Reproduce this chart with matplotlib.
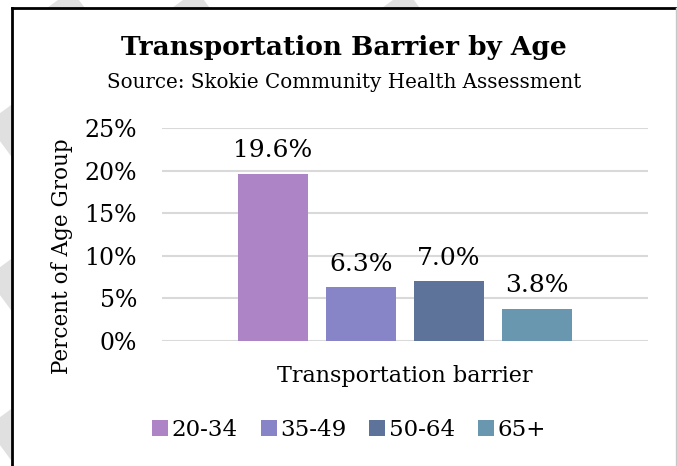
import matplotlib.pyplot as plt
import numpy as np
from matplotlib.patches import Rectangle

plt.rcParams['font.family'] = 'DejaVu Serif'

ages = ["20-34", "35-49", "50-64", "65+"]
pct = [19.6, 6.3, 7.0, 3.8]
colors = ["#ad84c6", "#8784c7", "#5d739a", "#6997af"]
yticks = [0, 5, 10, 15, 20, 25]

fig = plt.figure(figsize=(6.77, 4.66), dpi=100)

# page background layer in pixel coordinates
bg = fig.add_axes([0, 0, 1, 1], zorder=-2)
bg.set_xlim(0, 677)
bg.set_ylim(466, 0)
bg.axis("off")
for cx, cy in [(60, 0), (185, 0), (395, 0), (2, 118), (2, 272), (2, 422)]:
    bg.plot([cx - 22, cx + 22], [cy - 30, cy + 30], color="#e0e0e0",
            lw=22, solid_capstyle="butt", zorder=1)
bg.add_patch(Rectangle((12, 8), 664, 470, facecolor="white", edgecolor="none", zorder=3))
bg.plot([12, 677], [8, 8], color="black", lw=2, zorder=4)
bg.plot([12, 12], [8, 466], color="black", lw=2, zorder=4)
bg.plot([676, 676], [8, 466], color="#c8c8c8", lw=1, zorder=4)

ax = fig.add_axes([162 / 677, 125 / 466, 486 / 677, 213 / 466])
step = 0.362
width = 0.288
offsets = (np.arange(len(ages)) - 1.5) * step
for off, v, c, lab in zip(offsets, pct, colors, ages):
    ax.bar(off, v, width=width, color=c, label=lab, zorder=3)
    ax.annotate(f"{v:.1f}%", (off, v), xytext=(0, 12), textcoords="offset points",
                ha="center", va="baseline", fontsize=18)

ax.set_xlim(-1, 1)
ax.set_ylim(0, 25)
ax.set_yticks(yticks)
ax.set_yticklabels([f"{t}%" for t in yticks], fontsize=17)
ax.set_xticks([])
ax.tick_params(axis="y", length=0, pad=18)
ax.grid(axis="y", color="#d9d9d9", lw=1.5, zorder=0)
for s in ax.spines.values():
    s.set_visible(False)
ax.set_xlabel("Transportation barrier", fontsize=16, labelpad=17)

fig.text(62 / 677, 1 - 256 / 466, "Percent of Age Group", rotation=90,
         ha="center", va="center", fontsize=15.5)
fig.text(344 / 677, 1 - 48 / 466, "Transportation Barrier by Age",
         ha="center", va="center", fontsize=19, fontweight="bold")
fig.text(344 / 677, 1 - 82 / 466, "Source: Skokie Community Health Assessment",
         ha="center", va="center", fontsize=14.3)

fig.legend(loc="center", bbox_to_anchor=(349 / 677, 1 - 430 / 466), ncol=4,
           frameon=False, fontsize=16.5, handlelength=0.7, handleheight=0.7,
           handletextpad=0.15, columnspacing=1.0)

fig.savefig("out.png", dpi=100)
